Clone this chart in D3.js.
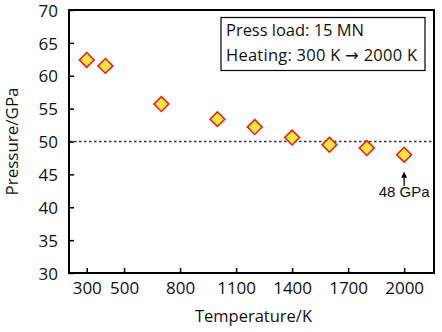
<!DOCTYPE html>
<html><head><meta charset="utf-8">
<script src="https://cdn.jsdelivr.net/npm/d3@7"></script>
<style>body{margin:0;background:#fff}svg{display:block}</style>
</head><body>
<script>
const temperatures = [300, 400, 700, 1000, 1200, 1400, 1600, 1800, 2000];
const pressures = [62.4, 61.5, 55.7, 53.4, 52.2, 50.6, 49.5, 49.0, 48.0];
const xTicks = [300, 500, 800, 1100, 1400, 1700, 2000];
const yTicks = [30, 35, 40, 45, 50, 55, 60, 65, 70];
const legendLines = [["Press load: 15 MN"], ["Heating: 300 K ", "\u2192", " 2000 K"]];
const refLine = 50;
const annotation = {t: 2000, p: 48, label: "48 GPa"};

const W = 442, H = 332;
const m = {l: 69, r: 8, t: 10, b: 59};
const font = "'Open Sans', sans-serif";
const svg = d3.select("body").append("svg").attr("width", W).attr("height", H);
const x = d3.scaleLinear().domain([205, 2160]).range([m.l, W - m.r]);
const y = d3.scaleLinear().domain([30, 70]).range([H - m.b, m.t]);

// dotted reference line
svg.append("line").attr("x1", x(205)).attr("x2", x(2160)).attr("y1", y(refLine)).attr("y2", y(refLine))
  .attr("stroke", "#333").attr("stroke-width", 1.3).attr("stroke-dasharray", "2.5,2.5");

// axes
const xAxis = svg.append("g").attr("transform", `translate(0,${H - m.b})`)
  .call(d3.axisBottom(x).tickValues(xTicks).tickSize(-5).tickPadding(9).tickFormat(d3.format("d")));
const yAxis = svg.append("g").attr("transform", `translate(${m.l},0)`)
  .call(d3.axisLeft(y).tickValues(yTicks).tickSize(-5).tickPadding(11).tickFormat(d3.format("d")));
[xAxis, yAxis].forEach(g => {
  g.select(".domain").remove();
  g.selectAll(".tick line").attr("stroke", "#000").attr("stroke-width", 1.5);
  g.selectAll("text").attr("font-family", font).attr("font-size", 17).attr("fill", "#111");
});
yAxis.selectAll("text").attr("dy", "0.36em");

// frame
svg.append("rect").attr("x", m.l).attr("y", m.t).attr("width", W - m.r - m.l).attr("height", H - m.b - m.t)
  .attr("fill", "none").attr("stroke", "#000").attr("stroke-width", 2);

// axis labels
svg.append("text").attr("x", (m.l + W - m.r) / 2 + 2).attr("y", 322).attr("text-anchor", "middle")
  .attr("font-family", font).attr("font-size", 16.5).attr("fill", "#111").text("Temperature/K");
svg.append("text").attr("transform", `translate(18,${(m.t + H - m.b) / 2}) rotate(-90)`)
  .attr("text-anchor", "middle").attr("font-family", font).attr("font-size", 17).attr("fill", "#111").text("Pressure/GPa");

// diamonds
const sym = d3.symbol().type(d3.symbolSquare).size(110);
svg.selectAll(".pt").data(temperatures.map((t, i) => ({t, p: pressures[i]}))).enter()
  .append("path").attr("class", "pt").attr("d", sym)
  .attr("transform", d => `translate(${x(d.t)},${y(d.p)}) rotate(45)`)
  .attr("fill", "#f0e63c").attr("stroke", "#f01818").attr("stroke-width", 1.5);

// annotation arrow
const ax = x(annotation.t), ay = y(annotation.p);
svg.append("line").attr("x1", ax).attr("x2", ax).attr("y1", ay + 31).attr("y2", ay + 21)
  .attr("stroke", "#000").attr("stroke-width", 1.3);
svg.append("path").attr("d", `M${ax},${ay + 17}L${ax - 3},${ay + 23}L${ax + 3},${ay + 23}Z`).attr("fill", "#000");
svg.append("text").attr("x", ax).attr("y", ay + 42).attr("text-anchor", "middle")
  .attr("font-family", "'Liberation Sans', Arial, sans-serif").attr("font-size", 15).attr("fill", "#111").text(annotation.label);

// legend box
svg.append("rect").attr("x", 221).attr("y", 17.5).attr("width", 204).attr("height", 53)
  .attr("fill", "#fff").attr("stroke", "#000").attr("stroke-width", 1.2);
const legendWidths = [138, 191];
legendLines.forEach((parts, i) => {
  const t = svg.append("text").attr("x", 226).attr("y", 36 + i * 25).attr("font-family", font).attr("font-size", 16.5)
    .attr("fill", "#111").attr("textLength", legendWidths[i]).attr("lengthAdjust", "spacing");
  parts.forEach((s, j) => {
    const ts = t.append("tspan").text(s);
    if (j === 1) ts.attr("font-family", "'DejaVu Sans', sans-serif");
  });
});
</script>
</body></html>
